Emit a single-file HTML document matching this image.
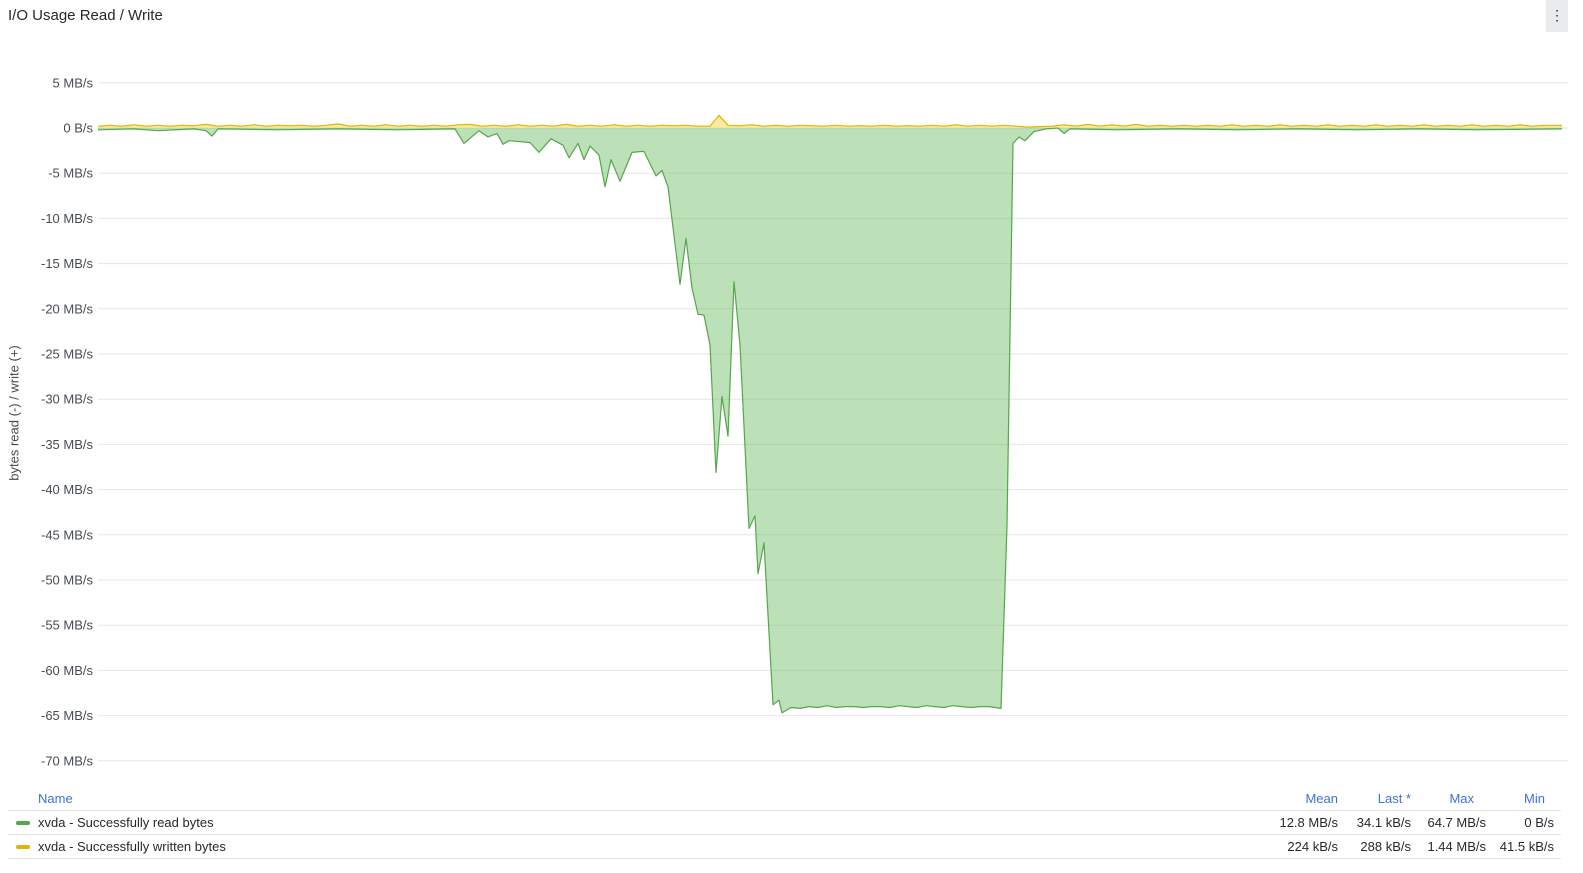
<!DOCTYPE html>
<html><head><meta charset="utf-8"><style>
body{margin:0;background:#fff;font-family:"Liberation Sans",sans-serif;color:#24292e;width:1583px;height:873px;overflow:hidden;position:relative}
.t{position:absolute;white-space:nowrap}
</style></head><body>
<div class="t" style="left:8px;top:7px;font-size:15px;font-weight:500">I/O Usage Read / Write</div>
<div style="position:absolute;left:1546px;top:0;width:22px;height:32px;background:#eaebed;font-size:14px;text-align:center;line-height:30px">⋮</div>
<svg id="chart" width="1583" height="790" style="position:absolute;left:0;top:0"></svg>
<div class="t" style="left:14px;top:413px;font-size:13px;color:#464c54;transform:translate(-50%,-50%) rotate(-90deg)">bytes read (-) / write (+)</div>
<div style="position:absolute;left:8px;top:788px;width:1553px;font-size:13px">
 <div style="position:relative;height:22px;border-bottom:1px solid #e4e4e6;color:#3d71d9">
  <span class="t" style="left:30px;top:3px">Name</span>
  <span class="t" style="right:223px;top:3px">Mean</span>
  <span class="t" style="right:150px;top:3px">Last *</span>
  <span class="t" style="right:87px;top:3px">Max</span>
  <span class="t" style="right:16px;top:3px">Min</span>
 </div>
 <div style="position:relative;height:23px;border-bottom:1px solid #e4e4e6">
  <span style="position:absolute;left:8px;top:10px;width:14px;height:4px;border-radius:2px;background:#56a64b"></span>
  <span class="t" style="left:30px;top:4px">xvda - Successfully read bytes</span>
  <span class="t" style="right:223px;top:4px">12.8 MB/s</span><span class="t" style="right:150px;top:4px">34.1 kB/s</span><span class="t" style="right:75px;top:4px">64.7 MB/s</span><span class="t" style="right:7px;top:4px">0 B/s</span>
 </div>
 <div style="position:relative;height:23px;border-bottom:1px solid #e4e4e6">
  <span style="position:absolute;left:8px;top:10px;width:14px;height:4px;border-radius:2px;background:#e0b400"></span>
  <span class="t" style="left:30px;top:4px">xvda - Successfully written bytes</span>
  <span class="t" style="right:223px;top:4px">224 kB/s</span><span class="t" style="right:150px;top:4px">288 kB/s</span><span class="t" style="right:75px;top:4px">1.44 MB/s</span><span class="t" style="right:7px;top:4px">41.5 kB/s</span>
 </div>
</div>
<script>
const yTicks=[5,0,-5,-10,-15,-20,-25,-30,-35,-40,-45,-50,-55,-60,-65,-70];
const readTimes=[0,6,10,16,18,19,20,30,40,50,59.5,61,63.5,65,66.5,67.5,68.5,72,73.5,75.5,77.5,78.5,80,81,82,83.5,84.5,85.5,87,88,89,90.5,91,93,94,95,97,98,99,100,101,102,103,104,105,106,107,108.5,109.5,110,111,112.5,113.5,114,115.5,117,118.5,120,121.5,123,124.5,126,127.5,129,130.5,132,133.5,135,136.5,138,139.5,141,142.5,144,145.5,147,148.5,150.5,151.5,152.5,153.5,154.5,156,158,160,161,162,170,180,190,200,210,220,230,244];
const readVals=[-0.2,-0.1,-0.3,-0.1,-0.3,-0.9,-0.1,-0.2,-0.1,-0.2,-0.1,-1.7,-0.3,-1.0,-0.6,-1.8,-1.4,-1.6,-2.7,-1.2,-1.9,-3.3,-1.7,-3.5,-2.0,-3.0,-6.5,-3.5,-5.9,-4.3,-2.7,-2.6,-2.6,-5.3,-4.7,-6.5,-17.3,-12.2,-17.7,-20.6,-20.7,-24.0,-38.1,-29.7,-34.1,-17.0,-24.0,-44.3,-42.9,-49.3,-45.9,-63.8,-63.3,-64.7,-64.1,-64.2,-64.0,-64.1,-63.9,-64.1,-64.0,-64.0,-64.1,-64.0,-64.0,-64.1,-63.9,-64.0,-64.1,-63.9,-64.0,-64.1,-63.9,-64.0,-64.1,-64.0,-64.0,-64.2,-44.0,-1.7,-1.0,-1.4,-0.4,-0.1,0,-0.6,-0.1,-0.2,-0.1,-0.2,-0.1,-0.2,-0.1,-0.2,-0.1];
const writeTimes=[0,2,4,6,8,10,12,14,16,18,20,22,24,26,28,30,32,34,36,38,40,42,44,46,48,50,52,54,56,58,60,62,64,66,68,70,72,74,76,78,80,82,84,86,88,90,92,94,96,98,100,102,103.5,105,107,109,111,113,115,117,119,121,123,125,127,129,131,133,135,137,139,141,143,145,147,149,151,153,155,157,159,161,163,165,167,169,171,173,175,177,179,181,183,185,187,189,191,193,195,197,199,201,203,205,207,209,211,213,215,217,219,221,223,225,227,229,231,233,235,237,239,241,244];
const writeVals=[0.2,0.3,0.2,0.35,0.2,0.3,0.2,0.3,0.25,0.4,0.2,0.3,0.2,0.35,0.2,0.3,0.25,0.3,0.2,0.3,0.45,0.2,0.3,0.2,0.35,0.2,0.3,0.2,0.3,0.2,0.35,0.4,0.2,0.3,0.2,0.35,0.2,0.3,0.2,0.4,0.2,0.3,0.2,0.35,0.2,0.3,0.2,0.3,0.25,0.3,0.2,0.2,1.4,0.3,0.25,0.35,0.2,0.3,0.2,0.3,0.25,0.2,0.3,0.2,0.25,0.2,0.3,0.2,0.25,0.2,0.3,0.2,0.35,0.2,0.3,0.2,0.3,0.2,0.1,0.15,0.2,0.35,0.2,0.4,0.2,0.35,0.2,0.4,0.2,0.3,0.2,0.3,0.2,0.3,0.2,0.35,0.2,0.3,0.2,0.35,0.2,0.3,0.2,0.35,0.2,0.3,0.2,0.35,0.2,0.3,0.2,0.35,0.2,0.3,0.2,0.35,0.2,0.3,0.2,0.35,0.2,0.3,0.3];
const NS='http://www.w3.org/2000/svg';
const svg=document.getElementById('chart');
const X0=98,X1=1562,T0=0,T1=244;
const xs=t=>X0+(t-T0)/(T1-T0)*(X1-X0);
const ys=v=>128-v*(761-83)/75;
function mk(tag,attrs){const e=document.createElementNS(NS,tag);for(const k in attrs)e.setAttribute(k,attrs[k]);svg.appendChild(e);return e;}
yTicks.forEach(v=>{
 const l=mk('line',{x1:X0,x2:1568,y1:ys(v),y2:ys(v),stroke:'#e6e6e8','stroke-width':1});
 
 
 const t=mk('text',{x:93,y:ys(v)+4.5,'text-anchor':'end','font-size':13,fill:'#464c54','font-family':'Liberation Sans, sans-serif'});
 t.textContent=(v===0?'0 B/s':v+' MB/s');
 
 
});
function series(times,vals,fill,stroke,name){
 const pts=times.map((t,i)=>xs(t).toFixed(1)+','+ys(vals[i]).toFixed(1));
 const area=mk('polygon',{points:xs(times[0])+','+ys(0)+' '+pts.join(' ')+' '+xs(times[times.length-1])+','+ys(0),fill:fill,stroke:'none'});
 
 
 const line=mk('polyline',{points:pts.join(' '),fill:'none',stroke:stroke,'stroke-width':1.2,'stroke-linejoin':'round'});
 
 
}
series(readTimes,readVals,'rgba(115,191,105,0.48)','#56a64b','read-series');
series(writeTimes,writeVals,'rgba(242,204,12,0.4)','#e0b400','write-series');
</script>
</body></html>
